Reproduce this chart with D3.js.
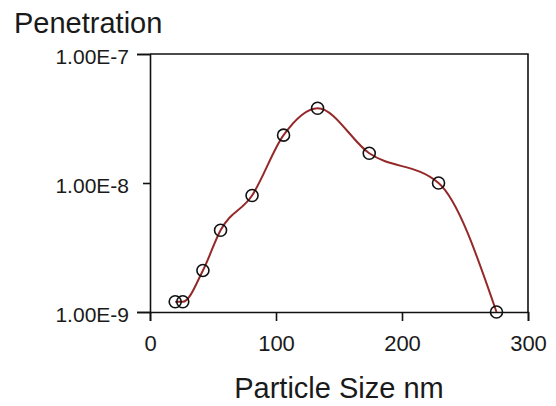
<!DOCTYPE html>
<html>
<head>
<meta charset="utf-8">
<script src="https://cdn.jsdelivr.net/npm/d3@7"></script>
<style>
  body { margin: 0; background: #fff; }
  text { font-family: "Liberation Sans", Arial, sans-serif; fill: #1a1a1a; }
</style>
</head>
<body>
<div id="chart"></div>
<script>
var width = 556;
var height = 406;

// particle size (nm) and penetration
var sizes = [20, 26, 42, 56, 81, 106, 133, 174, 229, 275];
var penetration = [1.2e-9, 1.2e-9, 2.1e-9, 4.3e-9, 8.0e-9, 2.35e-8, 3.8e-8, 1.7e-8, 1.0e-8, 1.0e-9];

var xTicks = [0, 100, 200, 300];
var yTicks = [1e-9, 1e-8, 1e-7];
var yTickLabels = ["1.00E-9", "1.00E-8", "1.00E-7"];

var margin = {left: 150, right: 28, top: 54, bottom: 94};

var svg = d3.select("#chart").append("svg")
  .attr("width", width)
  .attr("height", height);

var x = d3.scaleLinear().domain([0, 300]).range([margin.left, width - margin.right]);
var y = d3.scaleLog().domain([1e-9, 1e-7]).range([height - margin.bottom, margin.top]);

// box (top and right sides)
svg.append("path")
  .attr("d", "M" + x(0) + "," + y(1e-7) + "H" + x(300) + "V" + y(1e-9))
  .attr("fill", "none")
  .attr("stroke", "#111")
  .attr("stroke-width", 1.6);

// x axis
var gx = svg.append("g")
  .attr("transform", "translate(0," + y(1e-9) + ")")
  .call(d3.axisBottom(x).tickValues(xTicks).tickSize(9).tickPadding(14).tickFormat(d3.format("d")));
gx.select(".domain").attr("stroke", "#111").attr("stroke-width", 1.6);
gx.selectAll(".tick line").attr("stroke", "#111").attr("stroke-width", 1.6);
gx.selectAll(".tick text").style("font-size", "22px").attr("font-family", null);

// y axis
var gy = svg.append("g")
  .attr("transform", "translate(" + x(0) + ",0)")
  .call(d3.axisLeft(y).tickValues(yTicks).tickSize(13).tickPadding(8)
    .tickFormat(function(d, i) { return yTickLabels[i]; }));
gy.select(".domain").attr("stroke", "#111").attr("stroke-width", 1.6);
gy.selectAll(".tick line").attr("stroke", "#111").attr("stroke-width", 1.6)
  .attr("x2", function(d) { return d === 1e-8 ? -7 : -13; });
gy.selectAll(".tick text").style("font-size", "21px").attr("font-family", null)
  .attr("dy", "0.45em");

// curve through the points
var line = d3.line()
  .x(function(d, i) { return x(sizes[i]); })
  .y(function(d) { return y(d); })
  .curve(d3.curveMonotoneX);

svg.append("path")
  .attr("d", line(penetration))
  .attr("fill", "none")
  .attr("stroke", "#952828")
  .attr("stroke-width", 2);

svg.selectAll("circle.pt")
  .data(penetration)
  .enter().append("circle")
  .attr("class", "pt")
  .attr("cx", function(d, i) { return x(sizes[i]); })
  .attr("cy", function(d) { return y(d); })
  .attr("r", 6)
  .attr("fill", "none")
  .attr("stroke", "#111")
  .attr("stroke-width", 1.6);

// titles
svg.append("text")
  .attr("x", 14)
  .attr("y", 33)
  .style("font-size", "29px")
  .text("Penetration");

svg.append("text")
  .attr("x", (x(0) + x(300)) / 2)
  .attr("y", 398)
  .attr("text-anchor", "middle")
  .style("font-size", "29px")
  .text("Particle Size nm");
</script>
</body>
</html>
